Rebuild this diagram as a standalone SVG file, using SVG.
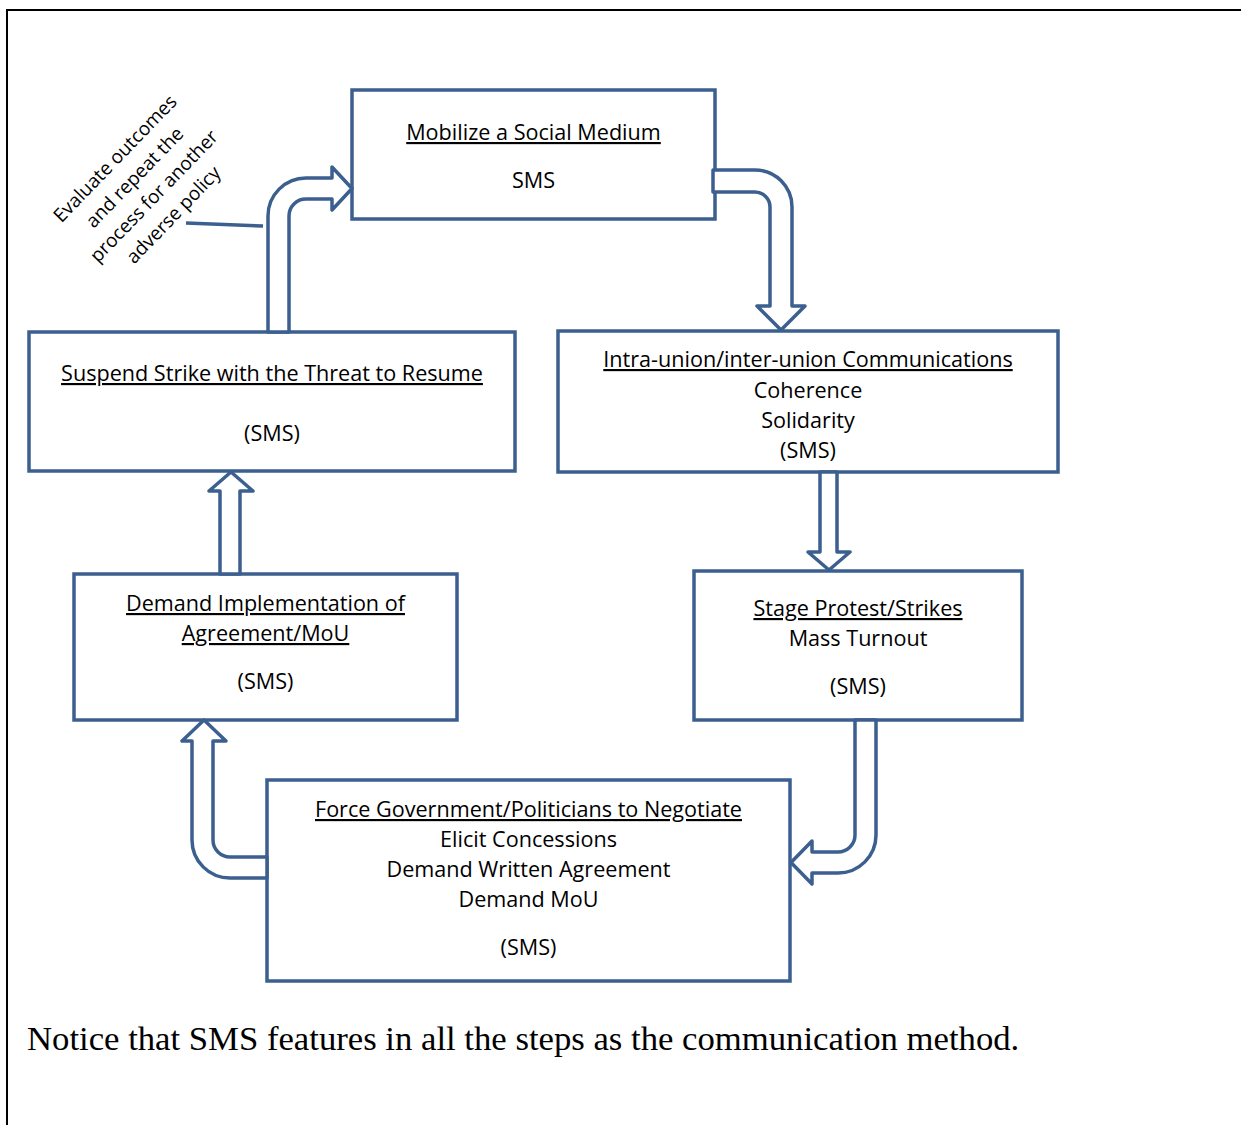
<svg xmlns="http://www.w3.org/2000/svg" width="1241" height="1125" viewBox="0 0 1241 1125">
<style>
.box{fill:#fff;stroke:#3B5F8E;stroke-width:3.5}
.arr{fill:#fff;stroke:#3B5F8E;stroke-width:3.5;stroke-linejoin:round}
.t{font-family:"Open Sans",Lato,"Liberation Sans",sans-serif;font-size:21.6px;fill:#000;text-anchor:middle}
.u{text-decoration:underline}
.r{font-family:"Open Sans",Lato,"Liberation Sans",sans-serif;font-size:19px;fill:#000;text-anchor:middle}
</style>
<rect width="1241" height="1125" fill="#fff"/>
<path d="M7,1125 V10 H1241" fill="none" stroke="#000" stroke-width="2"/>
<g id="n-mobilize"><rect class="box" x="352" y="90" width="363" height="129"/><text class="t u" x="533.5" y="140">Mobilize a Social Medium</text><text class="t" x="533.5" y="188">SMS</text></g>
<g id="n-intra"><rect class="box" x="558" y="331" width="500" height="141"/><text class="t u" x="808" y="367">Intra-union/inter-union Communications</text><text class="t" x="808" y="398">Coherence</text><text class="t" x="808" y="428">Solidarity</text><text class="t" x="808" y="458">(SMS)</text></g>
<g id="n-stage"><rect class="box" x="694" y="571" width="328" height="149"/><text class="t u" x="858" y="616">Stage Protest/Strikes</text><text class="t" x="858" y="646">Mass Turnout</text><text class="t" x="858" y="694">(SMS)</text></g>
<g id="n-force"><rect class="box" x="267" y="780" width="523" height="201"/><text class="t u" x="528.5" y="817">Force Government/Politicians to Negotiate</text><text class="t" x="528.5" y="847">Elicit Concessions</text><text class="t" x="528.5" y="877">Demand Written Agreement</text><text class="t" x="528.5" y="907">Demand MoU</text><text class="t" x="528.5" y="955">(SMS)</text></g>
<g id="n-demand"><rect class="box" x="74" y="574" width="383" height="146"/><text class="t u" x="265.5" y="611">Demand Implementation of</text><text class="t u" x="265.5" y="641">Agreement/MoU</text><text class="t" x="265.5" y="689">(SMS)</text></g>
<g id="n-suspend"><rect class="box" x="29" y="332" width="486" height="139"/><text class="t u" x="272" y="381">Suspend Strike with the Threat to Resume</text><text class="t" x="272" y="441">(SMS)</text></g>
<g id="connectors">
<path class="arr" d="M268,332 V216 A38,38 0 0 1 306,178 H332 V167 L352,188.5 L332,210 V199 H306 A17,17 0 0 0 289,216 V332 Z"/>
<path class="arr" d="M713,170 H755 A37,37 0 0 1 792,207 V306 H805 L781,330 L757,306 H770 V207 A15,15 0 0 0 755,192 H713 Z"/>
<path class="arr" d="M820,472 V552 H808 L829,570 L850,552 H837 V472 Z"/>
<path class="arr" d="M855,720 V835 A17,17 0 0 1 838,852 H812 V841 L791,862.5 L812,884 V873 H838 A38,38 0 0 0 876,835 V720 Z"/>
<path class="arr" d="M267,857 H230 A17,17 0 0 1 213,840 V741 H226 L204,720 L182,741 H192 V840 A38,38 0 0 0 230,878 H267 Z"/>
<path class="arr" d="M220,574 V491 H209 L231,472 L253,491 H240 V574 Z"/>
<path d="M186,223 L263,226" fill="none" stroke="#3B5F8E" stroke-width="3.5"/>
</g>
<g id="label-evaluate" transform="translate(143.5,186) rotate(-46)">
<text class="r" x="0" y="-33">Evaluate outcomes</text>
<text class="r" x="0" y="-6">and repeat the</text>
<text class="r" x="0" y="21">process for another</text>
<text class="r" x="0" y="48">adverse policy</text>
</g>
<text x="27" y="1050" font-family="'Liberation Serif',serif" font-size="34.7" fill="#000">Notice that SMS features in all the steps as the communication method.</text>
</svg>
